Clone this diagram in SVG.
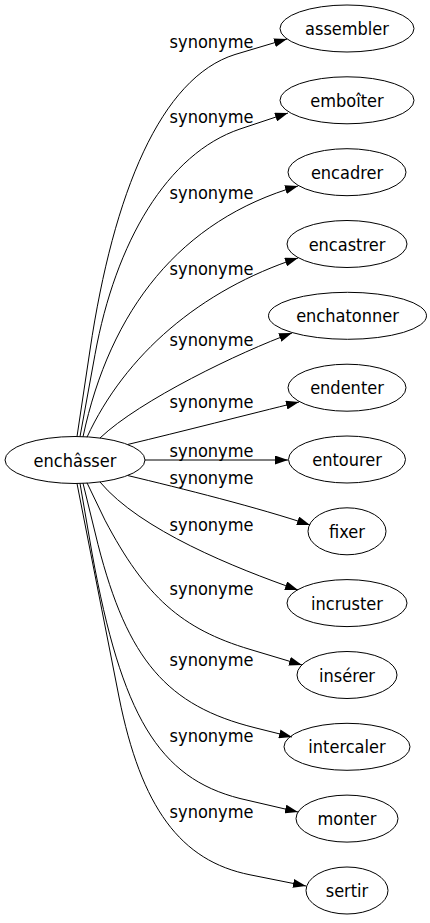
<svg xmlns="http://www.w3.org/2000/svg" width="430" height="923" viewBox="0 0 430 923">
<style>
.n ellipse{fill:none;stroke:#000;stroke-width:1}
text{font-family:"DejaVu Sans Condensed","DejaVu Sans",sans-serif;font-stretch:condensed;font-size:18px;fill:#000;text-anchor:middle}
.e path{fill:none;stroke:#000;stroke-width:1;marker-end:url(#ah)}
</style>
<defs>
<marker id="ah" viewBox="0 0 13 9" refX="13" refY="4.5" markerWidth="13" markerHeight="9" markerUnits="userSpaceOnUse" orient="auto"><path d="M0,0 L13,4.5 L0,9 z" fill="#000"/></marker>
</defs>
<rect width="430" height="923" fill="#fff"/>
<g id="connectors" class="e">
<g id="e-assembler"><path d="M77,436.5 L90,350 C113.5,192.4 160.9,77.7 235,54.5 L287,39"/><text x="211.5" y="48.3">synonyme</text></g>
<g id="e-emboiter"><path d="M80,436.6 L95,354.5 C115.5,241.9 167.4,153.6 240,129 L288,113"/><text x="211.5" y="123.3">synonyme</text></g>
<g id="e-encadrer"><path d="M83,436.8 C110,310 180,220 298,186"/><text x="211.5" y="199">synonyme</text></g>
<g id="e-encastrer"><path d="M87,437.2 C125,355 200,290 298,258"/><text x="211.5" y="274.7">synonyme</text></g>
<g id="e-enchatonner"><path d="M100,438 C140,400 240,352 292,333"/><text x="211.5" y="345.5">synonyme</text></g>
<g id="e-endenter"><path d="M128,444.4 C180,432 250,414 299,402"/><text x="211.5" y="408.3">synonyme</text></g>
<g id="e-entourer"><path d="M145,460 L288,460"/><text x="211.5" y="456.5">synonyme</text></g>
<g id="e-fixer"><path d="M128,475.6 C180,488 260,508 310,525"/><text x="211.5" y="483.5">synonyme</text></g>
<g id="e-incruster"><path d="M100,482 C140,530 235,568 298,590"/><text x="211.5" y="531">synonyme</text></g>
<g id="e-inserer"><path d="M87,482.8 L105,520.2 C145.3,596.7 181.5,629 250,649.4 L302,665"/><text x="211.5" y="595">synonyme</text></g>
<g id="e-intercaler"><path d="M83,483.2 L98,544.5 C127.6,660 166.9,705.8 255,727.75 L292,737"/><text x="211.5" y="666.3">synonyme</text></g>
<g id="e-monter"><path d="M80,483.4 L92,553 C121.6,715.7 158.6,777.9 240,798.5 L298,812"/><text x="211.5" y="741.7">synonyme</text></g>
<g id="e-sertir"><path d="M77,483.5 L119,697 C141.1,807.6 180.4,860.9 250,874.8 L306,886"/><text x="211.5" y="817.7">synonyme</text></g>
</g>
<g id="n-enchasser" class="n"><ellipse cx="75" cy="460" rx="70" ry="23.5"/><text x="75" y="466.5">enchâsser</text></g>
<g id="n-assembler" class="n"><ellipse cx="347" cy="28.5" rx="67" ry="23.5"/><text x="347" y="35">assembler</text></g>
<g id="n-emboiter" class="n"><ellipse cx="347" cy="100.3" rx="67" ry="23.5"/><text x="347" y="106.8">emboîter</text></g>
<g id="n-encadrer" class="n"><ellipse cx="347" cy="172.2" rx="59" ry="23.5"/><text x="347" y="178.7">encadrer</text></g>
<g id="n-encastrer" class="n"><ellipse cx="347" cy="244" rx="60" ry="23.5"/><text x="347" y="250.5">encastrer</text></g>
<g id="n-enchatonner" class="n"><ellipse cx="347.5" cy="315.8" rx="79" ry="23.5"/><text x="347.5" y="322.3">enchatonner</text></g>
<g id="n-endenter" class="n"><ellipse cx="347" cy="387.7" rx="59" ry="23.5"/><text x="347" y="394.2">endenter</text></g>
<g id="n-entourer" class="n"><ellipse cx="347" cy="459.5" rx="58.5" ry="23.5"/><text x="347" y="466">entourer</text></g>
<g id="n-fixer" class="n"><ellipse cx="347" cy="531.3" rx="39" ry="23.5"/><text x="347" y="537.8">fixer</text></g>
<g id="n-incruster" class="n"><ellipse cx="347" cy="603.1" rx="60" ry="23.5"/><text x="347" y="609.6">incruster</text></g>
<g id="n-inserer" class="n"><ellipse cx="347" cy="675" rx="50" ry="23.5"/><text x="347" y="681.5">insérer</text></g>
<g id="n-intercaler" class="n"><ellipse cx="347" cy="746.8" rx="63" ry="23.5"/><text x="347" y="753.3">intercaler</text></g>
<g id="n-monter" class="n"><ellipse cx="347" cy="818.6" rx="51" ry="23.5"/><text x="347" y="825.1">monter</text></g>
<g id="n-sertir" class="n"><ellipse cx="347" cy="890.5" rx="41" ry="23.5"/><text x="347" y="897">sertir</text></g>
</svg>
